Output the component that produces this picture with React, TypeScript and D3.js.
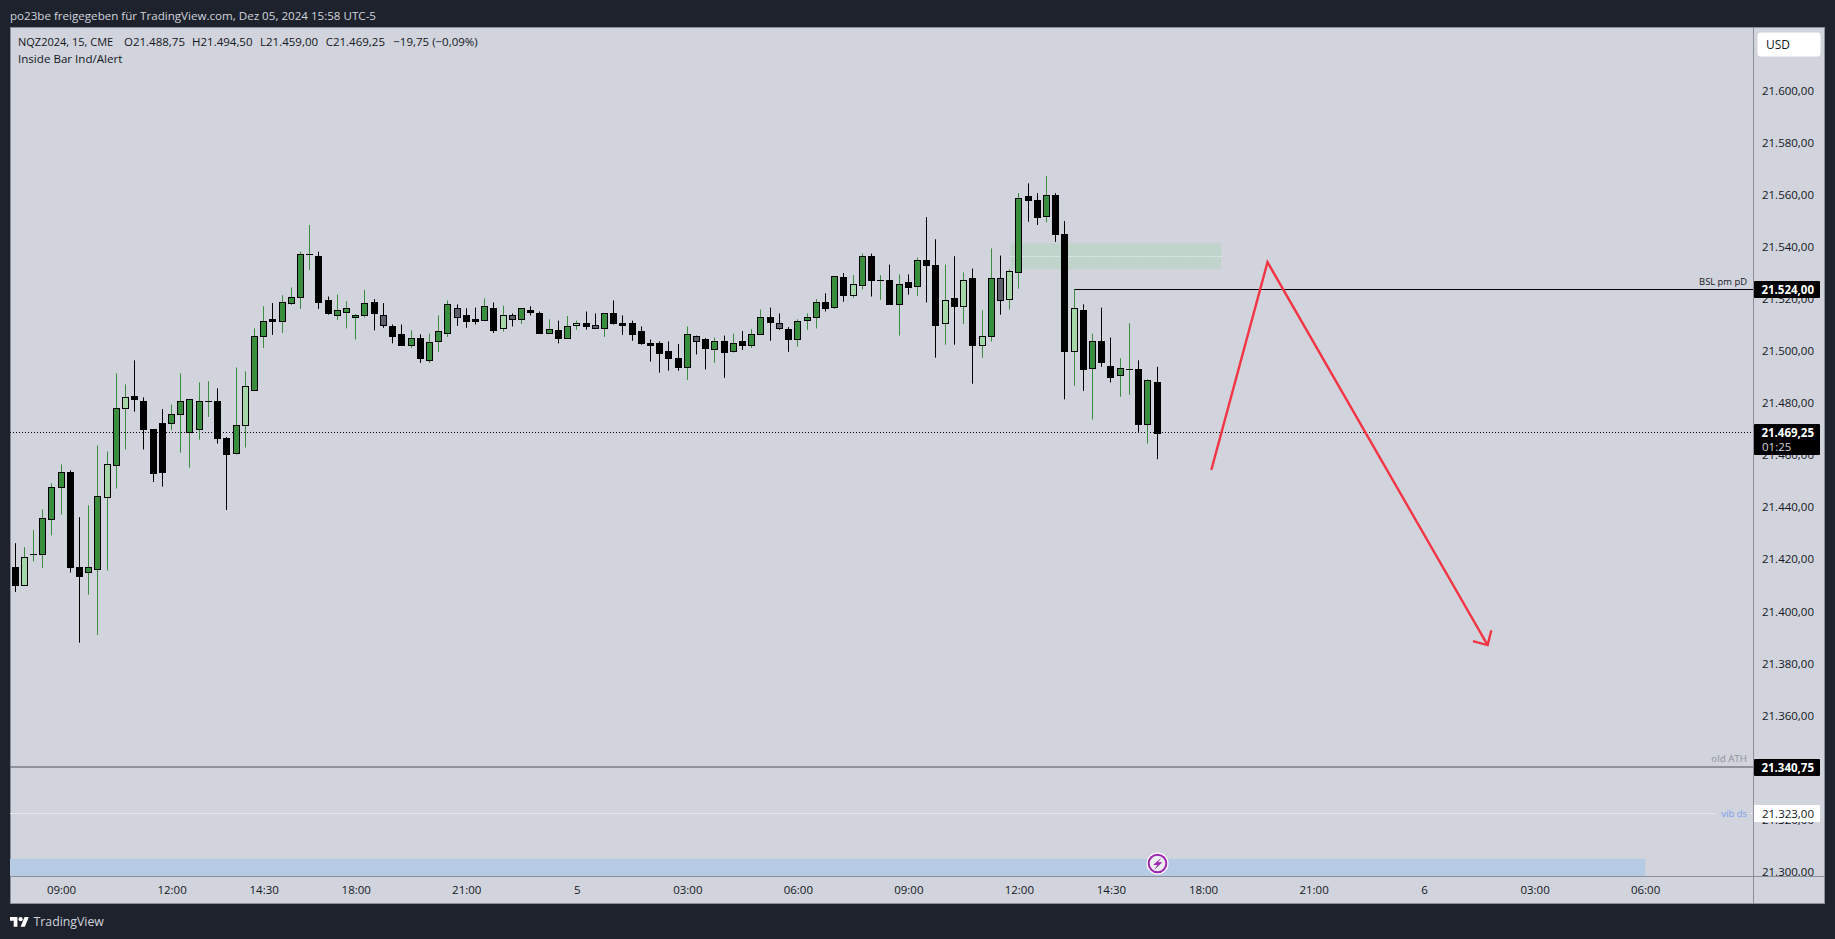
import React from "react";
import * as d3 from "d3";

const opens = [
  21417.5, 21410.75, 21422.5, 21422.75, 21436, 21448.25, 21454.25, 21417.5, 21415.75, 21416.75,
  21444.5, 21456.75, 21478.5, 21483.25, 21481.5, 21470.5, 21454, 21472.75, 21476.25, 21482,
  21470.5, 21481.25, 21481.25, 21467, 21461.25, 21472, 21485.75, 21506.5, 21513, 21512.25,
  21519, 21521.25, 21537.75, 21537.25, 21520, 21514.5, 21515.75, 21513.5, 21514.25, 21519.25,
  21514.25, 21510, 21507, 21503, 21505.75, 21497.25, 21504.25, 21507.5, 21517.25, 21514.25,
  21513, 21512.5, 21517.25, 21509.25, 21514.25, 21513, 21516.5, 21515, 21507.5, 21508.5,
  21505.75, 21510.75, 21511.5, 21510.75, 21509.5, 21515, 21511.5, 21511.25, 21508.25, 21503.5,
  21503.5, 21500.5, 21497.75, 21494.25, 21506.25, 21505, 21501.5, 21504.25, 21500.75, 21504.25,
  21502.75, 21507.25, 21513.5, 21511.5, 21509, 21505, 21512.5, 21513.5, 21519.25, 21517.5,
  21529, 21522.25, 21526, 21537.25, 21527.75, 21527.75, 21518.75, 21527.25, 21525.5, 21535.5,
  21533.75, 21511.25, 21520.75, 21518, 21528.5, 21502.75, 21506.5, 21528.75, 21520.5, 21530.75,
  21560, 21558.75, 21552.25, 21560.5, 21545.5, 21500.75, 21516.5, 21494, 21504.25, 21495,
  21491.5, 21493.5, 21493.5, 21472.5, 21488.75,
];
const closes = [
  21410.75, 21421.25, 21422.5, 21436.25, 21448.25, 21454, 21417.75, 21414.25, 21417.5, 21444.75,
  21457, 21478.5, 21482.75, 21482, 21470.75, 21453.75, 21472.75, 21476.25, 21481.5, 21469.5,
  21481.25, 21481.25, 21467, 21461, 21472, 21487, 21506.5, 21512.25, 21512.25, 21519.25,
  21521.5, 21537.75, 21537.75, 21519.5, 21515, 21516.25, 21517.25, 21514.25, 21519, 21515,
  21510.75, 21506.5, 21503, 21505.75, 21497.75, 21504, 21508.25, 21518.5, 21513.75, 21512.25,
  21512.25, 21518, 21508.5, 21514.25, 21513, 21517, 21515.75, 21507.5, 21509, 21505.75,
  21510, 21511.5, 21510, 21509.5, 21515, 21511.5, 21510.75, 21507.25, 21503.75, 21503,
  21500, 21497.75, 21494.5, 21507.25, 21504.25, 21501.75, 21504.25, 21500.25, 21503.5, 21502.75,
  21507.25, 21513.5, 21511.75, 21509.5, 21505, 21512.25, 21513.5, 21519.25, 21517.25, 21529.25,
  21522.25, 21526.5, 21537.25, 21528, 21527.75, 21518.75, 21526.5, 21525, 21535.5, 21533.75,
  21510.75, 21520, 21518, 21528, 21502.75, 21506.5, 21528.75, 21520, 21531.25, 21559.5,
  21558.75, 21552, 21560.5, 21545.5, 21500.75, 21517, 21493.5, 21504.5, 21496.25, 21490.75,
  21494, 21493.5, 21472.5, 21489.25, 21469.25,
];
const highs = [
  21426.75, 21425.25, 21431.75, 21439.75, 21449.75, 21457, 21454.75, 21436.75, 21441.25, 21464.25,
  21462, 21492, 21487.75, 21497, 21482.75, 21470.5, 21478.25, 21480, 21492, 21482,
  21488.5, 21489, 21486.25, 21467.5, 21494.25, 21492.75, 21509.25, 21517.75, 21519, 21522,
  21525, 21538.75, 21549, 21538.75, 21521.5, 21522.25, 21519.75, 21514.75, 21524, 21520.5,
  21519, 21510.75, 21510.75, 21508.5, 21507, 21507.25, 21514.25, 21520, 21518.5, 21517,
  21517.25, 21520.75, 21519.25, 21518, 21515, 21517, 21517.75, 21515.75, 21512.75, 21512.25,
  21514, 21512.25, 21515.75, 21515, 21515, 21520, 21514.25, 21512.25, 21510, 21505,
  21504.25, 21504.25, 21503.25, 21510, 21506.5, 21505.5, 21505.75, 21506.5, 21507.25, 21508.25,
  21509, 21516.5, 21517.25, 21515, 21509.75, 21512.75, 21515, 21520.5, 21522.75, 21529.25,
  21530.5, 21529.75, 21538, 21538, 21529.75, 21533.75, 21530, 21530, 21536.5, 21552,
  21543.5, 21533.75, 21537, 21530.75, 21532.25, 21516.25, 21540, 21537.25, 21532, 21561.25,
  21565, 21561.25, 21567.75, 21561.25, 21550.5, 21524.25, 21518.5, 21507.25, 21517.25, 21505.75,
  21497.75, 21511.25, 21497, 21489.75, 21494.5,
];
const lows = [
  21408, 21410.5, 21419.75, 21417.25, 21429.75, 21437.75, 21415.5, 21388.5, 21407, 21391.5,
  21416.25, 21447.75, 21462.75, 21477.25, 21462.75, 21450.25, 21448.5, 21470.25, 21461.5, 21455.75,
  21466.5, 21475.25, 21465, 21439.5, 21460.75, 21463.5, 21485.75, 21501.75, 21506.75, 21507.5,
  21518.25, 21516.75, 21531.75, 21516.75, 21514.5, 21512.5, 21509.25, 21505, 21513.5, 21508.5,
  21509.5, 21503.5, 21503, 21501.75, 21496, 21496, 21500.25, 21506, 21510.25, 21509.5,
  21510.75, 21512.5, 21507.5, 21508, 21510, 21511, 21514.25, 21507.5, 21507.5, 21503.5,
  21505.25, 21508.75, 21508.75, 21509.25, 21506, 21510.75, 21506.75, 21504.5, 21503, 21496.5,
  21492.25, 21493, 21493, 21489.5, 21499.25, 21493.5, 21496, 21490.25, 21500, 21501,
  21501.75, 21507.25, 21504.5, 21508.75, 21500.25, 21502.25, 21508.75, 21509.25, 21515.75, 21516.75,
  21519.5, 21521, 21524.25, 21521.5, 21520.25, 21518.5, 21506.5, 21522.25, 21521.75, 21519.25,
  21498, 21503, 21503, 21511, 21488, 21498, 21504.25, 21514.5, 21516.5, 21524.5,
  21550.25, 21549, 21550, 21542.5, 21482, 21487.25, 21485.25, 21474.25, 21494.5, 21488.5,
  21483, 21483.75, 21469.25, 21465, 21459,
];
// u = green, d = black, l = light green, g = grey
const tones = [
  "dluuuudduu", "luldddduuud".slice(0, 10), "uuddulu" + "udu", "uuuddu" + "uuud",
  "gddudu" + "uugd", "dudlgu" + "ddud", "uldgud" + "dddd", "dddugd" + "udud",
  "uudgdu" + "uudu", "dludud" + "udud", "dldldl" + "uglu", "dduddl" + "dudd", "uudud",
].join("").split("");

const timeIndex = [5, 17, 27, 37, 49, 61, 73, 85, 97, 109, 119, 129, 141, 153, 165, 177];
const timeLabels = ["09:00", "12:00", "14:30", "18:00", "21:00", "5", "03:00", "06:00", "09:00", "12:00", "14:30", "18:00", "21:00", "6", "03:00", "06:00"];
const priceTicks = d3.range(21300, 21601, 20);
const fmt = (p: number) => {
  const s = p.toFixed(2).replace(".", ",");
  return s.slice(0, 2) + "." + s.slice(2);
};

const currentPrice = 21469.25;
const bslPrice = 21524;
const bslStart = 115;
const oldAth = 21340.75;
const vibDs = 21323;
const zoneIdx = [108.1, 131];
const zonePrice = [21542, 21532];
const bandIdx = 177;
const bandPrice = 21305.5;
const arrowIdx = [129.9, 136, 159.9];
const arrowPrice = [21454.9, 21534.7, 21387.6];
const legendParts: [number, string][] = [
  [18, "NQZ2024, 15, CME"],
  [124, "O21.488,75"],
  [192, "H21.494,50"],
  [260, "L21.459,00"],
  [325.7, "C21.469,25"],
  [393.3, "−19,75 (−0,09%)"],
];

const W = 1835, H = 939;
const DARK = "#1e222d", PANE = "#d1d4dc", INK = "#131722", EDGE = "#8b8f9a";
const FONT = "'Open Sans', 'Noto Sans', sans-serif";
const PL = 10, PT = 27, PB = 876, PR = 1753, OR = 1825, OB = 903;
const FS = 11.5;

const xs = d3.scaleLinear().domain([0, 124]).range([15, 1157]);
const ys = d3.scaleLinear().domain([21600, 21300]).range([92.2, 873.1]);
const bodyFill: Record<string, string> = { u: "#388e3c", d: "#000000", l: "#a5d6a7", g: "#5d606b" };
const wickFill: Record<string, string> = { u: "#388e3c", d: "#000000", l: "#388e3c", g: "#000000" };
const crisp = (p: number) => Math.floor(ys(p)) + 0.5;

export default function App() {
  const a = arrowIdx.map((v, i) => [xs(v), ys(arrowPrice[i])] as [number, number]);
  const line = d3.line();
  const tip = a[2];
  const head = [195, 284].map((deg) => [
    tip[0] + 15.3 * Math.cos((deg * Math.PI) / 180),
    tip[1] + 15.3 * Math.sin((deg * Math.PI) / 180),
  ] as [number, number]);
  const tx = (s: number) => ({ fontFamily: FONT, fontSize: s });
  return (
    <svg width={W} height={H} viewBox={`0 0 ${W} ${H}`} style={{ position: "fixed", left: 0, top: 0, display: "block" }}>
      <defs>
        <clipPath id="axisClip"><rect x={PR} y={PT} width={OR - PR} height={PB - PT} /></clipPath>
        <clipPath id="plotClip"><rect x={PL} y={PT} width={PR - PL} height={PB - PT} /></clipPath>
      </defs>
      <rect width={W} height={H} fill={DARK} />
      <rect x={PL + 0.5} y={PT + 0.5} width={OR - PL - 1} height={OB - PT} fill={PANE} stroke={EDGE} />
      <text x={10} y={15} dominantBaseline="central" fill="#d1d4dc" style={tx(11.6)}>po23be freigegeben für TradingView.com, Dez 05, 2024 15:58 UTC-5</text>

      <g clipPath="url(#plotClip)">
        <rect x={PL} y={ys(bandPrice)} width={xs(bandIdx) - PL} height={PB - ys(bandPrice)} fill="#b6cbe3" />
        <rect x={xs(zoneIdx[0])} y={ys(zonePrice[0])} width={xs(zoneIdx[1]) - xs(zoneIdx[0])} height={ys(zonePrice[1]) - ys(zonePrice[0])} fill="#c0d4cb" />
        <line x1={xs(zoneIdx[0])} x2={xs(zoneIdx[1])} y1={crisp((zonePrice[0] + zonePrice[1]) / 2)} y2={crisp((zonePrice[0] + zonePrice[1]) / 2)} stroke="#ffffff" strokeDasharray="1 2" />
        <line x1={PL} x2={PR} y1={ys(oldAth)} y2={ys(oldAth)} stroke="#787b86" strokeWidth={1.5} />
        <line x1={PL} x2={1716} y1={crisp(vibDs)} y2={crisp(vibDs)} stroke="#e3e5ea" />
        <line x1={1750} x2={PR} y1={crisp(vibDs)} y2={crisp(vibDs)} stroke="#e3e5ea" />
        <line x1={PL} x2={PR - 1} y1={crisp(currentPrice)} y2={crisp(currentPrice)} stroke="#000000" strokeDasharray="1 2" />
        <line x1={xs(bslStart)} x2={PR} y1={crisp(bslPrice) - 1} y2={crisp(bslPrice) - 1} stroke="#000000" />

        {opens.map((o, i) => {
          const px = Math.floor(xs(i));
          const t = tones[i];
          const top = Math.round(ys(Math.max(o, closes[i])));
          const bot = Math.round(ys(Math.min(o, closes[i])));
          return (
            <g key={i}>
              <rect x={px} y={ys(highs[i])} width={1} height={ys(lows[i]) - ys(highs[i])} fill={wickFill[t]} />
              {bot - top < 1 ? (
                <rect x={px - 3} y={top} width={7} height={1} fill="#000000" />
              ) : (
                <rect x={px - 2.5} y={top + 0.5} width={6} height={bot - top} fill={bodyFill[t]} stroke="#000000" />
              )}
            </g>
          );
        })}

        <path d={line([a[0], a[1], a[2]]) ?? ""} fill="none" stroke="#f23645" strokeWidth={2.4} strokeLinejoin="miter" />
        <path d={line([head[0], tip, head[1]]) ?? ""} fill="none" stroke="#f23645" strokeWidth={2.4} />

        <text x={1747} y={281} textAnchor="end" dominantBaseline="central" fill={INK} style={tx(9.4)}>BSL pm pD</text>
        <text x={1747} y={758} textAnchor="end" dominantBaseline="central" fill="#8f929b" style={tx(9.8)}>old ATH</text>
        <text x={1747} y={813} textAnchor="end" dominantBaseline="central" fill="#7c9cf0" style={tx(9.5)}>vib ds</text>

        <circle cx={1157.5} cy={863.5} r={11} fill="#ffffff" />
        <circle cx={1157.5} cy={863.5} r={8.8} fill="#eceef2" stroke="#9c27b0" strokeWidth={2} />
        <path d="M1161.5 857.5 L1153.2 865 L1157.3 865 L1154.2 870 L1162.3 862.3 L1158 862.3 Z" fill="#9c27b0" />
      </g>

      {legendParts.map(([x, s]) => (
        <text key={s} x={x} y={41.5} dominantBaseline="central" fill={INK} style={tx(x === 18 ? 11 : FS)}>{s}</text>
      ))}
      <text x={18} y={58.5} dominantBaseline="central" fill={INK} style={tx(11.6)}>Inside Bar Ind/Alert</text>

      <g clipPath="url(#axisClip)">
        {priceTicks.map((p) => (
          <text key={p} x={1814} y={ys(p) - 1.8} textAnchor="end" dominantBaseline="central" fill={INK} style={tx(FS)}>{fmt(p)}</text>
        ))}
      </g>
      <line x1={PR + 0.5} x2={PR + 0.5} y1={PT} y2={OB} stroke={EDGE} />
      <line x1={PL} x2={OR} y1={PB + 0.5} y2={PB + 0.5} stroke={EDGE} />

      <rect x={1757.5} y={32.5} width={63} height={24} rx={3} fill="#ffffff" />
      <text x={1766} y={44.5} dominantBaseline="central" fill={INK} style={tx(12)}>USD</text>

      <rect x={1754} y={281} width={66} height={17} rx={1} fill="#000000" />
      <text x={1814} y={289.3} textAnchor="end" dominantBaseline="central" fill="#ffffff" fontWeight={700} style={tx(FS)}>{fmt(bslPrice)}</text>
      <rect x={1754} y={424} width={66} height={31} rx={1} fill="#000000" />
      <text x={1814} y={432.5} textAnchor="end" dominantBaseline="central" fill="#ffffff" fontWeight={700} style={tx(FS)}>{fmt(currentPrice)}</text>
      <text x={1762} y={446} dominantBaseline="central" fill="#d1d4dc" style={tx(FS)}>01:25</text>
      <rect x={1754} y={759} width={66} height={17} rx={1} fill="#000000" />
      <text x={1814} y={767} textAnchor="end" dominantBaseline="central" fill="#ffffff" fontWeight={700} style={tx(FS)}>{fmt(oldAth)}</text>
      <rect x={1754} y={805} width={66} height={17} fill="#ffffff" />
      <text x={1814} y={813} textAnchor="end" dominantBaseline="central" fill={INK} style={tx(FS)}>{fmt(vibDs)}</text>

      {timeIndex.map((v, i) => (
        <text key={i} x={xs(v) + 0.5} y={889.5} textAnchor="middle" dominantBaseline="central" fill={INK} style={tx(FS)}>{timeLabels[i]}</text>
      ))}

      <g transform="translate(10 915) scale(0.53)" fill="#ffffff">
        <path d="M14 22H7V11H0V4h14v18zM28 22h-8l7.5-18h8L28 22z" />
        <circle cx={20} cy={8} r={4} />
      </g>
      <text x={33.5} y={921} dominantBaseline="central" fill="#d1d4dc" style={tx(12.3)}>TradingView</text>
    </svg>
  );
}
